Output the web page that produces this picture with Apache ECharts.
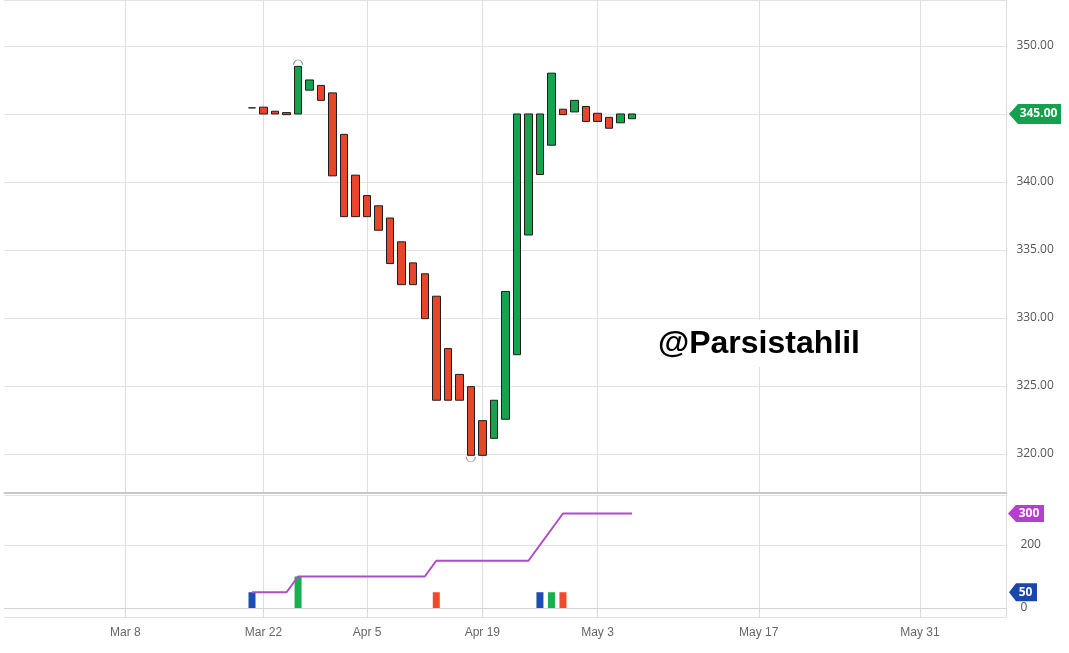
<!DOCTYPE html>
<html><head><meta charset="utf-8">
<script src="https://cdn.jsdelivr.net/npm/echarts@6/dist/echarts.min.js"></script>
<style>html,body{margin:0;padding:0;background:#fff}#c{width:1069px;height:653px}</style>
</head><body><div id="c"></div>
<script>
// ---- categories ----
const leadDates = ['Feb 24','Feb 25','Feb 27','Feb 28','Mar 1','Mar 2','Mar 3','Mar 4','Mar 6','Mar 7',
  'Mar 8','Mar 9','Mar 10','Mar 11','Mar 13','Mar 14','Mar 15','Mar 16','Mar 17','Mar 18','Mar 20'];
const candleDates = ['Mar 21','Mar 22','Mar 23','Mar 24','Mar 27','Mar 28','Mar 29','Mar 30','Mar 31','Apr 3',
  'Apr 5','Apr 6','Apr 7','Apr 10','Apr 11','Apr 12','Apr 13','Apr 14','Apr 17','Apr 18',
  'Apr 19','Apr 20','Apr 21','Apr 24','Apr 25','Apr 26','Apr 27','Apr 28','May 1','May 2',
  'May 3','May 4','May 5','May 6'];
const futureDates = ['May 7','May 8','May 9','May 10','May 11','May 12','May 13','May 14','May 15','May 16',
  'May 17','May 18','May 19','May 20','May 21','May 22','May 23','May 24','May 25','May 26',
  'May 27','May 28','May 29','May 30','May 31','Jun 1','Jun 2','Jun 3','Jun 4','Jun 5','Jun 6','Jun 7'];
const xTickLabels = ['Mar 8','Mar 22','Apr 5','Apr 19','May 3','May 17','May 31'];

// ---- price series (one entry per candleDates) ----
const openValues = [345.45,345.5,345.2,345.1,345.0,346.75,347.1,346.55,343.5,340.5,
  339.0,338.25,337.35,335.6,334.05,333.25,331.6,327.75,325.85,324.95,
  322.45,321.15,322.55,327.3,336.1,340.55,342.7,345.35,345.15,345.55,
  345.05,344.75,344.35,344.65];
const closeValues = [345.45,345.0,345.0,344.95,348.5,347.5,346.0,340.45,337.45,337.45,
  337.45,336.45,334.0,332.45,332.45,329.95,323.95,323.95,323.95,319.9,
  319.9,323.95,331.95,345.0,345.0,345.0,348.0,344.95,346.0,344.45,
  344.45,343.95,345.0,345.0];
const highMarker = [['Mar 27', 348.5]];
const lowMarker = [['Apr 18', 319.9]];

// ---- lower pane (one entry per candleDates, '-' = none) ----
const lineValues = [50,50,50,50,100,100,100,100,100,100,
  100,100,100,100,100,100,150,150,150,150,
  150,150,150,150,150,200,250,300,300,300,
  300,300,300,300];
const blueBars  = [50,'-','-','-','-','-','-','-','-','-','-','-','-','-','-','-','-','-','-','-','-','-','-','-','-',50,'-','-','-','-','-','-','-','-'];
const greenBars = ['-','-','-','-',100,'-','-','-','-','-','-','-','-','-','-','-','-','-','-','-','-','-','-','-','-','-',50,'-','-','-','-','-','-','-'];
const redBars   = ['-','-','-','-','-','-','-','-','-','-','-','-','-','-','-','-',50,'-','-','-','-','-','-','-','-','-','-',50,'-','-','-','-','-','-'];

const allDates = leadDates.concat(candleDates, futureDates);
const pad = arr => allDates.map(d => { const i = candleDates.indexOf(d); return i < 0 ? '-' : arr[i]; });
const candleData = allDates.map(d => {
  const i = candleDates.indexOf(d);
  if (i < 0) return ['-','-','-','-'];
  const o = openValues[i], c = closeValues[i];
  const v = [o, c, Math.min(o, c), Math.max(o, c)];
  if (o === c) return { value: v, itemStyle: { color: '#222', color0: '#222', borderColor: '#222', borderColor0: '#222' } };
  return v;
});
const showTick = (idx, val) => xTickLabels.indexOf(val) >= 0;

const chart = echarts.init(document.getElementById('c'), null, { renderer: 'canvas' });
const GL = 4.38, GW = 1002;
const splitX = { show: true, interval: showTick, alignWithLabel: true, lineStyle: { color: '#dedede', width: 1 } };
chart.setOption({
  animation: false,
  backgroundColor: '#fff',
  grid: [
    { left: GL, width: GW, top: 0, height: 493 },
    { left: GL, width: GW, top: 495, height: 122 }
  ],
  xAxis: [
    { type: 'category', gridIndex: 0, data: allDates, boundaryGap: true,
      axisLine: { show: true, lineStyle: { color: '#c8c8c8', width: 2 } },
      axisTick: { show: false }, axisLabel: { show: false }, splitLine: splitX },
    { type: 'category', gridIndex: 1, data: allDates, boundaryGap: true,
      axisLine: { show: true, lineStyle: { color: '#d4d4d4', width: 1 } },
      axisTick: { show: true, alignWithLabel: true, interval: showTick, length: 5, lineStyle: { color: '#d4d4d4' } },
      axisLabel: { interval: showTick, color: '#666', fontSize: 12, fontFamily: '"Liberation Sans Narrow", "Liberation Sans", sans-serif', margin: 10 },
      splitLine: splitX }
  ],
  yAxis: [
    { type: 'value', gridIndex: 0, position: 'right', min: 317.13, max: 353.38, splitNumber: 7,
      axisLine: { show: true, lineStyle: { color: '#dcdcdc' } }, axisTick: { show: false },
      axisLabel: { showMinLabel: false, showMaxLabel: false, formatter: v => v.toFixed(2), color: '#555', fontSize: 12, fontFamily: '"Open Sans", sans-serif', margin: 10 },
      splitLine: { lineStyle: { color: '#e2e2e2' } } },
    { type: 'value', gridIndex: 1, position: 'right', min: -28.6, max: 358.7, splitNumber: 2,
      axisLine: { show: true, lineStyle: { color: '#dcdcdc' } }, axisTick: { show: false },
      axisLabel: { showMinLabel: false, showMaxLabel: false, color: '#555', fontSize: 12, fontFamily: '"Open Sans", sans-serif', margin: 14 },
      splitLine: { lineStyle: { color: '#e2e2e2' } } }
  ],
  series: [
    { type: 'candlestick', name: 'price', xAxisIndex: 0, yAxisIndex: 0, data: candleData, barWidth: 8,
      itemStyle: { color: '#17a24e', color0: '#e8462b', borderColor: '#1e1e1e', borderColor0: '#1e1e1e', borderWidth: 1 } },
    { type: 'scatter', xAxisIndex: 0, yAxisIndex: 0, data: highMarker, symbol: 'path://M0,10 A10,10 0 0 1 20,10', symbolSize: [9, 5], symbolOffset: [0, -4],
      itemStyle: { color: 'transparent', borderColor: '#4d8f6a', borderWidth: 1 }, silent: true },
    { type: 'scatter', xAxisIndex: 0, yAxisIndex: 0, data: lowMarker, symbol: 'path://M0,0 A10,10 0 0 0 20,0', symbolSize: [9, 5], symbolOffset: [0, 4],
      itemStyle: { color: 'transparent', borderColor: '#a08a80', borderWidth: 1 }, silent: true },
    { type: 'bar', xAxisIndex: 1, yAxisIndex: 1, data: pad(blueBars), barWidth: 7, barGap: '-100%', itemStyle: { color: '#1d4cb2' } },
    { type: 'bar', xAxisIndex: 1, yAxisIndex: 1, data: pad(greenBars), barWidth: 7, barGap: '-100%', itemStyle: { color: '#17b04e' } },
    { type: 'bar', xAxisIndex: 1, yAxisIndex: 1, data: pad(redBars), barWidth: 7, barGap: '-100%', itemStyle: { color: '#ee4a2b' } },
    { type: 'line', xAxisIndex: 1, yAxisIndex: 1, data: pad(lineValues), showSymbol: false, symbol: 'none', z: 5,
      lineStyle: { color: '#ad4cc8', width: 2 } }
  ]
});

// value tags on the right axis, positioned by the axes' own scales
function tag(y, xTip, xBody, xEnd, half, text, color) {
  return [
    { type: 'polygon', z: 100, shape: { points: [[xTip, y], [xBody, y - half], [xEnd, y - half], [xEnd, y + half], [xBody, y + half]] }, style: { fill: color } },
    { type: 'text', z: 101, x: (xBody + xEnd) / 2 - 1, y: y, style: { text: text, fill: '#fff', font: 'bold 12px "Open Sans", sans-serif', align: 'center', verticalAlign: 'middle' } }
  ];
}
const lastClose = closeValues[closeValues.length - 1];
const lastLine = lineValues[lineValues.length - 1];
const lastBar = 50;
const yClose = chart.convertToPixel({ yAxisIndex: 0 }, lastClose);
const yLine = chart.convertToPixel({ yAxisIndex: 1 }, lastLine);
const yBar = chart.convertToPixel({ yAxisIndex: 1 }, lastBar);
chart.setOption({
  graphic: [
    { type: 'rect', z: 90, shape: { x: 650, y: 320, width: 225, height: 47 }, style: { fill: '#fff' } },
    { type: 'text', z: 91, x: 658, y: 344, style: { text: '@Parsistahlil', fill: '#000', font: 'bold 32px "Liberation Sans", Arial, sans-serif', verticalAlign: 'middle' } }
  ].concat(
    tag(yClose, 1009, 1018, 1061, 10, lastClose.toFixed(2), '#14a04c'),
    tag(yLine, 1008, 1016, 1044, 8.5, String(lastLine), '#b43fcf'),
    tag(yBar, 1009, 1016, 1037, 9, String(lastBar), '#1a47ad')
  )
});
</script></body></html>
